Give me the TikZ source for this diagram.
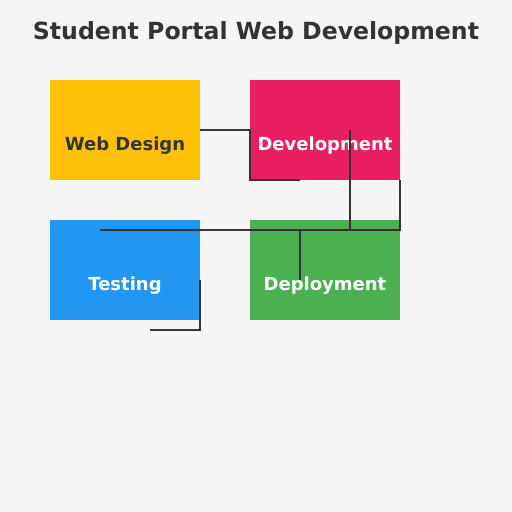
\documentclass[tikz,border=0pt]{standalone}
\usepackage{fontspec}
\setmainfont{DejaVu Sans}
\definecolor{bg}{HTML}{F5F5F5}
\definecolor{ink}{HTML}{333333}
\definecolor{cyellow}{HTML}{FFC107}
\definecolor{cpink}{HTML}{E91E63}
\definecolor{cblue}{HTML}{2196F3}
\definecolor{cgreen}{HTML}{4CAF50}
\tikzset{
  box/.style={minimum width=150pt, minimum height=100pt, inner sep=0pt, outer sep=0pt, draw=none},
  lbl/.style={font=\bfseries\fontsize{18}{22}\selectfont, inner sep=0pt},
  conn/.style={draw=ink, line width=2pt},
}
\begin{document}
\begin{tikzpicture}[x=1pt,y=-1pt]
\fill[bg] (0,0) rectangle (512,512);
\useasboundingbox (0,0) rectangle (512,512);
\node[font=\bfseries\fontsize{23.6}{28}\selectfont, text=ink] (title) at (256,33) {Student Portal Web Development};
\node[box, fill=cyellow] (wd) at (125,130) {};
\node[box, fill=cpink] (dev) at (325,130) {};
\node[box, fill=cblue] (tst) at (125,270) {};
\node[box, fill=cgreen] (dep) at (325,270) {};
\node[lbl, text=ink] (wdl) at (125,146) {Web Design};
\node[lbl, text=white] (devl) at (325,146) {Development};
\node[lbl, text=white] (tstl) at (125,286) {Testing};
\node[lbl, text=white] (depl) at (325,286) {Deployment};
\coordinate (e1) at (300,180);
\coordinate (s3) at (350,130);
\coordinate (e3) at (100,230);
\coordinate (e2) at (300,280);
\coordinate (s4) at (200,280);
\coordinate (e4) at (150,330);
\draw[conn] (wd.east) -- (dev.west) -- (dev.south west) -- (e1);
\draw[conn] (dev.south east) -- (400,230) -- (e2 |- 0,230) -- (e2);
\draw[conn] (s3) -- (350,230) -- (e3);
\draw[conn] (s4) -- (200,330) -- (e4);
\end{tikzpicture}
\end{document}
